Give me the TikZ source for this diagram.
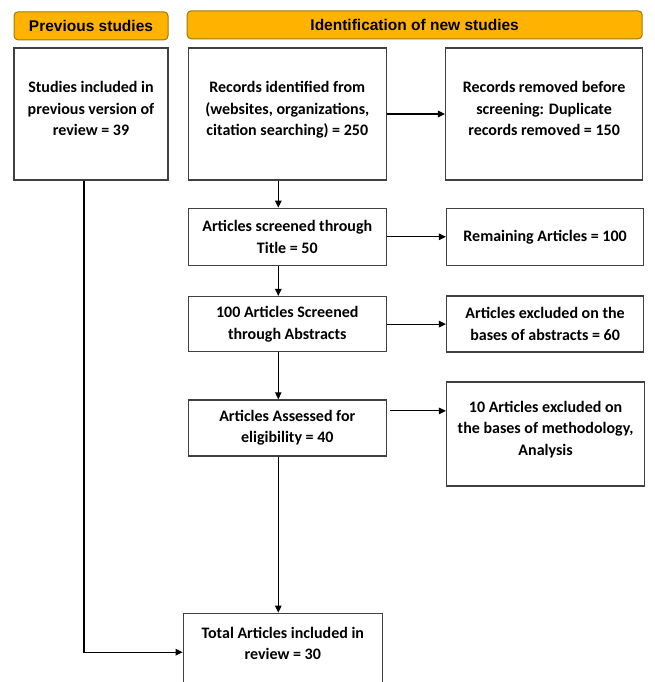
\documentclass[tikz,border=0pt]{standalone}
\usepackage{fontspec}
\setmainfont{Carlito}
\newfontfamily\hdrfont{Liberation Sans}
\usetikzlibrary{positioning,arrows.meta}
\definecolor{hdrfill}{HTML}{FFB300}
\definecolor{hdrline}{HTML}{A07800}
\definecolor{boxline}{HTML}{404040}

\begin{document}
\begin{tikzpicture}[
        x=1pt, y=-1pt,
        node distance=28pt and 58pt,
        block/.style={draw=boxline, line width=1.3pt, rectangle, inner sep=2pt,
                      minimum width=198pt, align=center,
                      font=\bfseries\fontsize{16}{21.5}\selectfont},
        hdr/.style={draw=hdrline, fill=hdrfill, rounded corners=4pt, line width=1pt,
                    minimum height=28pt,
                    font=\hdrfont\bfseries\fontsize{15.5}{18}\selectfont},
        raised/.style={text depth=#1},
        raised/.default=11pt,
        arr/.style={-{Stealth[length=7pt,width=6.5pt,inset=0pt]}, line width=1.1pt}
    ]
    \path[use as bounding box, clip] (0,0) rectangle (654,682);

    \node[block, raised, minimum width=154pt, minimum height=132pt] (prev) at (91,114)
        {Studies included in\\previous version of\\review = 39};
    \node[block, raised, minimum height=132pt, right=19pt of prev] (recs)
        {Records identified from\\(websites, organizations,\\citation searching) = 250};
    \node[block, raised, minimum width=197pt, minimum height=132pt, right=58pt of recs] (removed)
        {Records removed before\\screening: Duplicate\\records removed = 150};

    \node[hdr, minimum width=154pt, above=7pt of prev] (hdrprev) {Previous studies};
    \node[hdr, minimum width=455pt, anchor=south west] (hdrnew)
        at ([xshift=-1pt,yshift=8pt]recs.north west) {Identification of new studies};

    \node[block, minimum height=57pt, below=27pt of recs] (title)
        {Articles screened through\\Title = 50};
    \node[block, minimum width=197pt, minimum height=57pt, right=59pt of title] (remain)
        {Remaining Articles = 100};

    \node[block, minimum height=55pt, below=30pt of title] (abs)
        {100 Articles Screened\\through Abstracts};
    \node[block, minimum width=197pt, minimum height=56pt, right=59pt of abs] (exabs)
        {Articles excluded on the\\bases of abstracts = 60};

    \node[block, minimum height=56pt, below=47pt of abs] (elig)
        {Articles Assessed for\\eligibility = 40};
    \node[block, raised=12pt, minimum height=104pt, right=59pt of elig, yshift=-6pt] (exmeth)
        {10 Articles excluded on\\the bases of methodology,\\Analysis};

    \node[block, raised=11pt, minimum width=199pt, minimum height=71pt, below=156pt of elig, xshift=-4.5pt] (total)
        {Total Articles included in\\review = 30};

    \draw[arr] (recs) -- (removed);
    \draw[arr] (title) -- (remain);
    \draw[arr] (abs) -- (exabs);
    \draw[arr] ([xshift=3pt,yshift=17pt]elig.east) coordinate (e) -- (e -| exmeth.west);
    \draw[arr] ([xshift=-9pt]recs.south) -- ([xshift=-9pt]title.north);
    \draw[arr] ([xshift=-9pt]title.south) -- ([xshift=-9pt]abs.north);
    \draw[arr] ([xshift=-9pt]abs.south) -- ([xshift=-9pt]elig.north);
    \draw[arr] ([xshift=-9pt]elig.south) coordinate (d) -- (d |- total.north);
    \draw[arr] ([xshift=-7pt]prev.south) |- ([yshift=-3.5pt]total.west);
\end{tikzpicture}
\end{document}
